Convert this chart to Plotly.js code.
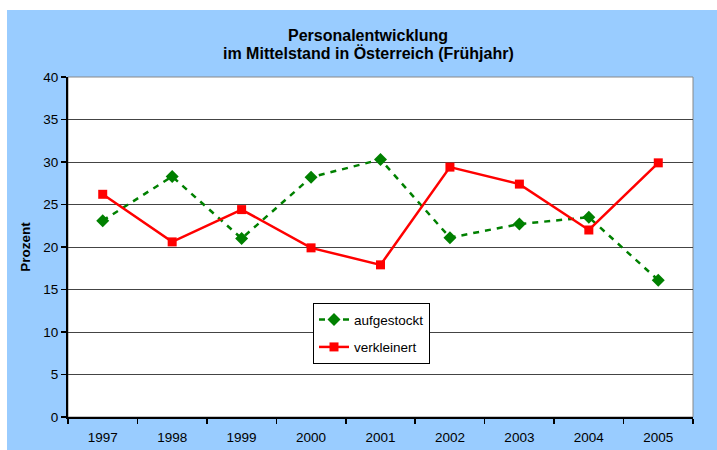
<!DOCTYPE html>
<html>
<head>
<meta charset="utf-8">
<script src="https://cdn.plot.ly/plotly-3.0.1.min.js"></script>
<style>
html,body{margin:0;padding:0;background:#ffffff;width:717px;height:450px;overflow:hidden;}
#chart{position:absolute;left:7px;top:10px;width:710px;height:440px;}
</style>
</head>
<body>
<div id="chart"></div>
<script>
const years = ["1997","1998","1999","2000","2001","2002","2003","2004","2005"];
const aufgestockt = [23.1, 28.3, 21.0, 28.2, 30.3, 21.1, 22.7, 23.5, 16.1];
const verkleinert = [26.2, 20.6, 24.4, 19.9, 17.9, 29.4, 27.4, 22.0, 29.9];
const yTicks = [0,5,10,15,20,25,30,35,40];
const titleLines = ["Personalentwicklung", "im Mittelstand in Österreich (Frühjahr)"];

const FONT = "Arial, 'Liberation Sans', sans-serif";
const FS = 13.5;

const traces = [
  {
    x: years, y: aufgestockt, name: "aufgestockt", type: "scatter", mode: "lines+markers",
    legendgroup: "a",
    line: {color: "#008000", width: 2.5, dash: "6px,6px"},
    marker: {symbol: "diamond", size: 10, color: "#008000"}
  },
  {
    x: years, y: verkleinert, name: "verkleinert", type: "scatter", mode: "lines+markers",
    legendgroup: "b",
    line: {color: "#FF0000", width: 2.5},
    marker: {symbol: "square", size: 9, color: "#FF0000"}
  }
];

const layout = {
  width: 710, height: 440,
  margin: {l: 61, r: 24, t: 67, b: 33},
  paper_bgcolor: "#99CCFF",
  plot_bgcolor: "#ffffff",
  font: {family: FONT, size: FS, color: "#000"},
  annotations: [
    {text: "<b>" + titleLines[0] + "</b>", xref: "paper", yref: "paper", x: 0.48, y: 1.1235,
     xanchor: "center", yanchor: "middle", showarrow: false, font: {family: FONT, size: 16, color: "#000"}},
    {text: "<b>" + titleLines[1] + "</b>", xref: "paper", yref: "paper", x: 0.48, y: 1.0706,
     xanchor: "center", yanchor: "middle", showarrow: false, font: {family: FONT, size: 16, color: "#000"}}
  ],
  xaxis: {
    type: "category",
    range: [-0.5, 8.5],
    tickson: "boundaries",
    ticks: "outside", ticklen: 5, tickwidth: 1.5, tickcolor: "#000",
    ticklabelstandoff: 7,
    showline: true, linecolor: "#000", linewidth: 2,
    showgrid: false, zeroline: false,
    tickfont: {family: FONT, size: FS, color: "#000"},
    fixedrange: true
  },
  yaxis: {
    range: [0, 40],
    tickvals: yTicks, ticktext: yTicks.map(String),
    ticks: "outside", ticklen: 5, tickwidth: 1.5, tickcolor: "#000",
    showline: true, linecolor: "#000", linewidth: 2,
    showgrid: true, gridcolor: "#444444", gridwidth: 1,
    zeroline: false,
    tickfont: {family: FONT, size: FS, color: "#000"},
    title: {text: "<b>Prozent</b>", font: {family: FONT, size: FS, color: "#000"}, standoff: 10},
    fixedrange: true
  },
  shapes: [
    {type: "rect", xref: "paper", yref: "paper", x0: 0, x1: 1, y0: 0, y1: 1,
     line: {color: "#888888", width: 1}, layer: "below"}
  ],
  showlegend: true,
  legend: {
    x: 0.392, y: 0.335, xanchor: "left", yanchor: "top",
    bgcolor: "#ffffff", bordercolor: "#000", borderwidth: 1,
    font: {family: FONT, size: FS, color: "#000"},
    traceorder: "grouped", tracegroupgap: 7
  }
};

Plotly.newPlot("chart", traces, layout, {displayModeBar: false, staticPlot: true});
</script>
</body>
</html>
